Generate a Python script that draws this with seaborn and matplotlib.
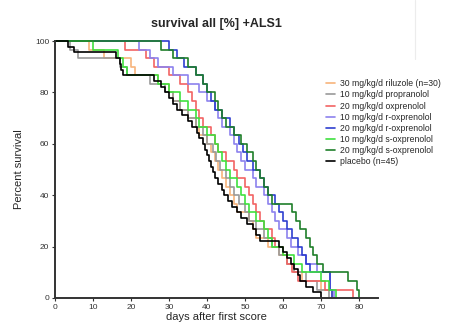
import pandas as pd
import seaborn as sns
import matplotlib.pyplot as plt
from matplotlib.lines import Line2D

groups = [
    "30 mg/kg/d riluzole (n=30)",
    "10 mg/kg/d propranolol",
    "20 mg/kg/d oxprenolol",
    "10 mg/kg/d r-oxprenolol",
    "20 mg/kg/d r-oxprenolol",
    "10 mg/kg/d s-oxprenolol",
    "20 mg/kg/d s-oxprenolol",
    "placebo (n=45)",
]
colors = ["#f7b47c", "#9a9a9a", "#f26464", "#8c82ee", "#2f3fcf", "#3fe03f", "#1f7f2a", "#000000"]

# kaplan-meier steps: day of drop, percent surviving after it
riluzole_t = [0, 9, 13, 20, 21, 27, 30, 31, 33, 35, 37, 38, 40, 41, 42, 43, 44, 45, 46, 47, 48, 51, 52, 53, 56, 59, 61, 63, 65, 70, 73]
riluzole_s = [100, 96.7, 93.3, 90, 86.7, 83.3, 80, 76.7, 73.3, 70, 66.7, 63.3, 60, 56.7, 53.3, 50, 46.7, 43.3, 40, 36.7, 33.3, 30, 26.7, 23.3, 20, 16.7, 13.3, 10, 6.7, 3.3, 0]

propranolol_t = [0, 4, 6, 17, 19, 25, 29, 31, 33, 35, 37, 39, 40, 41.5, 42.5, 43.5, 45, 46, 47, 48.5, 50, 51, 53, 55, 57, 59, 61, 63, 66, 69, 72]
propranolol_s = [100, 96.7, 93.3, 90, 86.7, 83.3, 80, 76.7, 73.3, 70, 66.7, 63.3, 60, 56.7, 53.3, 50, 46.7, 43.3, 40, 36.7, 33.3, 30, 26.7, 23.3, 20, 16.7, 13.3, 10, 6.7, 3.3, 0]

oxp20_t = [0, 18.5, 24, 26, 30, 33, 35, 36, 37, 38, 39, 41, 42, 43, 45, 47, 48, 50, 51, 52, 53, 54, 55, 57, 58, 60, 61, 62.5, 64, 71, 78.5]
oxp20_s = [100, 96.7, 93.3, 90, 86.7, 83.3, 80, 76.7, 73.3, 70, 66.7, 63.3, 60, 56.7, 53.3, 50, 46.7, 43.3, 40, 36.7, 33.3, 30, 26.7, 23.3, 20, 16.7, 13.3, 10, 6.7, 3.3, 0]

roxp10_t = [0, 22, 25, 27, 31, 35, 38, 40, 42, 43, 44, 46, 47, 48, 49, 50, 52, 53, 55, 56, 57, 58, 59, 61, 62, 64, 66, 69, 72.5, 73.5]
roxp10_s = [100, 96.7, 93.3, 90, 86.7, 83.3, 80, 76.7, 73.3, 70, 66.7, 63.3, 60, 56.7, 53.3, 50, 46.7, 43.3, 40, 36.7, 33.3, 30, 26.7, 23.3, 20, 16.7, 13.3, 10, 3.3, 0]

roxp20_t = [0, 30, 32, 34, 37, 39, 40, 41, 42, 44, 46, 47, 48.5, 49.5, 50.5, 52, 54, 55, 56, 58, 59, 60, 61, 62.5, 64, 65, 66, 67, 72.5, 73]
roxp20_s = [100, 96.7, 93.3, 90, 86.7, 83.3, 80, 76.7, 73.3, 70, 66.7, 63.3, 60, 56.7, 53.3, 50, 46.7, 43.3, 40, 36.7, 33.3, 30, 26.7, 23.3, 20, 16.7, 13.3, 10, 3.3, 0]

soxp10_t = [0, 10, 16.5, 18, 19, 27, 30, 33, 35, 37, 38, 40, 42, 43, 44, 45, 46, 48, 49, 50, 51, 53, 55, 56, 57, 60, 63, 65, 70, 72, 74]
soxp10_s = [100, 96.7, 93.3, 90, 86.7, 83.3, 80, 76.7, 73.3, 70, 66.7, 63.3, 60, 56.7, 53.3, 50, 46.7, 43.3, 40, 36.7, 33.3, 30, 26.7, 23.3, 20, 16.7, 13.3, 10, 6.7, 3.3, 0]

soxp20_t = [0, 28, 31, 35, 37, 39, 40, 42, 43, 44, 45, 47, 49, 50.5, 52, 53, 54, 55, 56, 57, 62.5, 63.5, 64.5, 66, 67, 68, 69, 70.5, 77, 79.5, 80]
soxp20_s = [100, 96.7, 93.3, 90, 86.7, 83.3, 80, 76.7, 73.3, 70, 66.7, 63.3, 60, 56.7, 53.3, 50, 46.7, 43.3, 40, 36.7, 33.3, 30, 26.7, 23.3, 20, 16.7, 13.3, 10, 6.7, 3.3, 0]

placebo_t = [0, 3.5, 5, 16, 17, 17.5, 18, 26, 28, 29, 30, 31, 32, 33.5, 35, 36, 37.5, 38, 39, 39.5, 40, 40.5, 41, 41.5, 42, 43, 44, 44.5, 45.5, 46.5, 48, 49, 50.5, 52, 53, 54, 59, 60, 61, 62, 63, 64, 64.5, 66, 68, 70]
placebo_s = [100, 97.8, 95.6, 93.3, 91.1, 88.9, 86.7, 84.4, 82.2, 80, 77.8, 75.6, 73.3, 71.1, 68.9, 66.7, 64.4, 62.2, 60, 57.8, 55.6, 53.3, 51.1, 48.9, 46.7, 44.4, 42.2, 40, 37.8, 35.6, 33.3, 31.1, 28.9, 26.7, 24.4, 22.2, 20, 17.8, 15.6, 13.3, 11.1, 8.9, 6.7, 4.4, 2.2, 0]

xticks = [0, 10, 20, 30, 40, 50, 60, 70, 80]
yticks = [0, 20, 40, 60, 80, 100]


def build_frame():
    series = [
        (riluzole_t, riluzole_s),
        (propranolol_t, propranolol_s),
        (oxp20_t, oxp20_s),
        (roxp10_t, roxp10_s),
        (roxp20_t, roxp20_s),
        (soxp10_t, soxp10_s),
        (soxp20_t, soxp20_s),
        (placebo_t, placebo_s),
    ]
    parts = []
    for name, (t, s) in zip(groups, series):
        parts.append(pd.DataFrame({"day": t, "survival": s, "group": name}))
    return pd.concat(parts, ignore_index=True)


def main():
    df = build_frame()
    sns.set_style("ticks")
    plt.rcParams["font.family"] = ["Liberation Sans", "DejaVu Sans"]

    fig = plt.figure(figsize=(4.58, 3.26), dpi=100)
    ax = fig.add_axes([0.1201, 0.0859, 0.705, 0.788])
    ax = sns.lineplot(data=df, x="day", y="survival", hue="group", hue_order=groups,
                      palette=dict(zip(groups, colors)), drawstyle="steps-post",
                      linewidth=1.2, clip_on=False, estimator=None, ax=ax)

    ax.set_xlim(0, 85)
    ax.set_ylim(0, 100)
    ax.set_xticks(xticks)
    ax.set_yticks(yticks)
    ax.tick_params(labelsize=6, length=2.5, width=0.8, pad=1.5, colors="#333333")
    for sp in ["left", "bottom"]:
        ax.spines[sp].set_linewidth(1.4)
        ax.spines[sp].set_color("#333333")
    sns.despine(ax=ax)
    ax.set_xlabel("days after first score", fontsize=8, labelpad=1)
    ax.set_ylabel("Percent survival", fontsize=8, labelpad=8)
    ax.set_title("survival all [%] +ALS1", fontsize=9, fontweight="bold", pad=10)

    sns.move_legend(ax, loc="upper left", bbox_to_anchor=(0.83, 0.865), frameon=False,
                    fontsize=6.2, title=None, handlelength=1.0, handletextpad=0.6,
                    labelspacing=0.25, borderaxespad=0)

    fig.add_artist(Line2D([0.906, 0.906], [0.82, 1.0], color="#ececec", linewidth=0.8))
    fig.savefig("out.png", dpi=100)


if __name__ == "__main__":
    main()
